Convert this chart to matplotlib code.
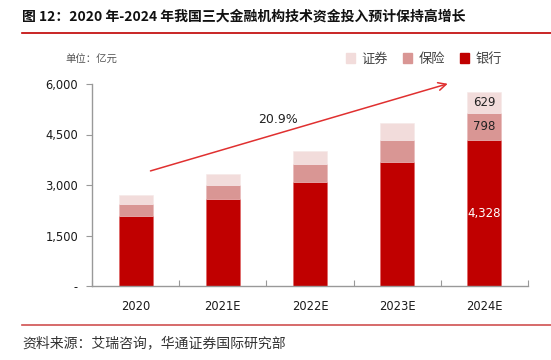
import matplotlib
matplotlib.use("Agg")
import matplotlib.pyplot as plt
from matplotlib.lines import Line2D
from matplotlib.patches import Patch

plt.rcParams["font.family"] = ["Noto Sans CJK SC", "DejaVu Sans"]

years = ["2020", "2021E", "2022E", "2023E", "2024E"]
bank = [2090, 2575, 3098, 3683, 4328]
insurance = [345, 434, 516, 644, 798]
securities = [268, 317, 396, 505, 629]
yticks = [0, 1500, 3000, 4500, 6000]
ytick_labels = ["-", "1,500", "3,000", "4,500", "6,000"]
cagr_text = "20.9%"

c_bank = "#C00000"
c_ins = "#D99694"
c_sec = "#F2DCDB"

fig = plt.figure(figsize=(5.51, 3.6), dpi=100)
ax = fig.add_axes([92 / 551, 74 / 360, 436 / 551, 202 / 360])

x = [i + 0.5 for i in range(len(years))]
w = 0.39
base2 = [b + i for b, i in zip(bank, insurance)]
ax.bar(x, bank, w, color=c_bank, edgecolor="#E06060", linewidth=0.4)
ax.bar(x, insurance, w, bottom=bank, color=c_ins, edgecolor="#E8B8B8", linewidth=0.4)
ax.bar(x, securities, w, bottom=base2, color=c_sec, edgecolor="#F6E8E8", linewidth=0.4)

# value labels on the last bar
k = len(years) - 1
ax.text(x[k], bank[k] / 2, f"{bank[k]:,}", ha="center", va="center",
        color="white", fontsize=8.5, family="DejaVu Sans")
ax.text(x[k], bank[k] + insurance[k] / 2, f"{insurance[k]:,}", ha="center",
        va="center", color="#222222", fontsize=8.5, family="DejaVu Sans")
ax.text(x[k], base2[k] + securities[k] / 2, f"{securities[k]:,}", ha="center",
        va="center", color="#222222", fontsize=8.5, family="DejaVu Sans")

# growth arrow
ax.annotate("", xy=(4.11, 6030), xytext=(0.64, 3395),
            arrowprops=dict(arrowstyle="->", color="#E03030", lw=1.1,
                            mutation_scale=14),
            annotation_clip=False)
ax.text(2.13, 4950, cagr_text, ha="center", va="center", fontsize=9,
        color="#222222", family="DejaVu Sans")

ax.set_xlim(0, len(years))
ax.set_ylim(0, 6000)
ax.set_yticks(yticks)
ax.set_yticklabels(ytick_labels, family="DejaVu Sans", fontsize=8.3, color="#1a1a1a")
ax.set_xticks(range(len(years) + 1))
ax.set_xticklabels([])
ax.set_xticks(x, minor=True)
ax.set_xticklabels(years, minor=True, family="DejaVu Sans", fontsize=8.3, color="#1a1a1a")
ax.tick_params(axis="x", which="minor", length=0, pad=10)
ax.tick_params(axis="x", which="major", length=4, color="#999999", direction="in")
ax.tick_params(axis="y", length=4, color="#999999", pad=6)
for s in ["top", "right"]:
    ax.spines[s].set_visible(False)
for s in ["left", "bottom"]:
    ax.spines[s].set_color("#999999")
    ax.spines[s].set_linewidth(1)

# legend
handles = [Patch(color=c_sec), Patch(color=c_ins), Patch(color=c_bank)]
fig.legend(handles, ["证券", "保险", "银行"], loc="center left",
           bbox_to_anchor=(334 / 551, 1 - 59 / 360), ncol=3, frameon=False,
           fontsize=9.5, handlelength=0.7, handleheight=0.7, handletextpad=0.5,
           columnspacing=1.1, labelcolor="#444444")

fig.text(65 / 551, 1 - 60 / 360, "单位：亿元", fontsize=7.5, color="#555555",
         va="center")

# title and separators
fig.text(22 / 551, 1 - 17 / 360,
         "图 12：2020 年-2024 年我国三大金融机构技术资金投入预计保持高增长",
         fontsize=10, fontweight="bold", va="center", color="#111111")
fig.add_artist(Line2D([22 / 551, 1], [1 - 33 / 360] * 2, color="#C00000", lw=1.2))
fig.add_artist(Line2D([22 / 551, 1], [1 - 325 / 360] * 2, color="#D05050", lw=1.2))
fig.text(22 / 551, 1 - 343 / 360, "资料来源：艾瑞咨询，华通证券国际研究部",
         fontsize=10, va="center", color="#333333")

fig.savefig("out.png", dpi=100)
